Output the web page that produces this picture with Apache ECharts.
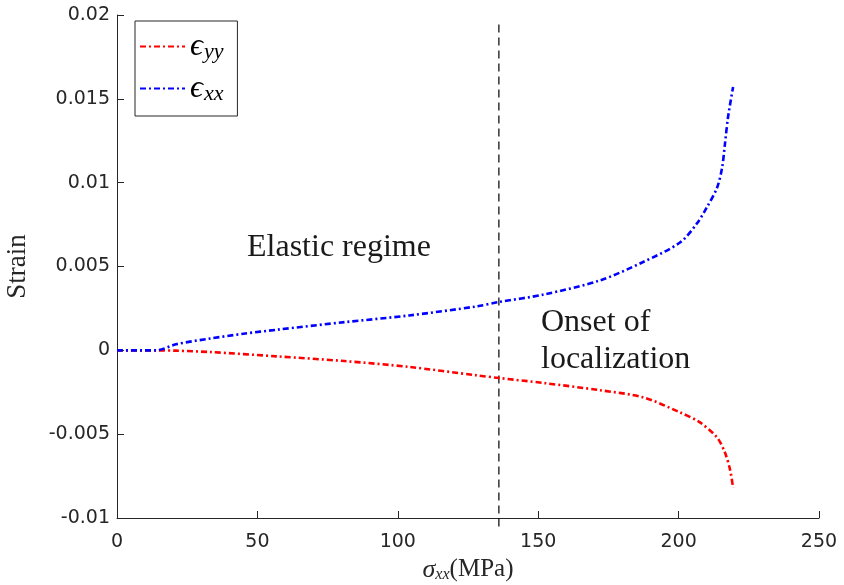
<!DOCTYPE html>
<html lang="en">
<head>
	<meta charset="UTF-8">
	<title>strain vs stress</title>
	<style type="text/css">
	body,html{
		width: 100%;
		height: 100%;
		margin: 0;
		padding: 0;
		background: #fff;
	}
	#chart{
		width: 844px;
		height: 585px;
	}
	</style>
</head>
<body>
	<div id="chart"></div>
<script type="text/javascript" src="https://cdn.jsdelivr.net/npm/echarts@6/dist/echarts.min.js"></script>
<script type="text/javascript">
	// values
	var stressXX = [0, 14, 21, 33, 45, 57, 81, 104, 128, 136, 152, 172, 187, 200.5, 206.5, 210, 213.7, 215.5, 216.5, 217.6, 219.4];
	var strainXX = [0, 0, 0.00036, 0.0007, 0.00099, 0.00123, 0.00168, 0.00208, 0.00262, 0.00288, 0.00333, 0.00417, 0.00524, 0.00643, 0.00756, 0.00851, 0.0097, 0.0109, 0.0123, 0.0139, 0.0157];
	var stressYY = [0, 14, 21, 33, 57, 81, 104, 128, 136, 152, 172, 187.3, 200.5, 207.6, 213.7, 216.5, 218.3, 219.4];
	var strainYY = [0, 0, -0.00002, -0.0001, -0.00036, -0.00064, -0.00099, -0.00149, -0.00165, -0.00195, -0.00238, -0.0028, -0.0037, -0.0043, -0.0052, -0.0061, -0.0071, -0.0082];
	var onsetX = [136, 136];
	var onsetY = [-0.0105, 0.0196];
	var xTicks = [0, 250, 50];
	var yTicks = [-0.01, 0.02, 0.005];

	function pairs(xs, ys){
		var out = [];
		for (var i = 0; i < xs.length; i++) out.push([xs[i], ys[i]]);
		return out;
	}

	var axisColor = '#262626';
	var serif = 'Liberation Serif';
	var dashDot = [6, 3, 2, 3];

	var chart = echarts.init(document.getElementById('chart'));
	var option = {
		animation: false,
		backgroundColor: '#fff',
		grid: {left: 117, right: 25, top: 15, bottom: 67, containLabel: false, outerBoundsMode: 'none'},
		legend: {
			orient: 'vertical',
			left: 135,
			top: 21,
			padding: [9, 14, 11, 4],
			itemWidth: 45,
			itemHeight: 14,
			itemGap: 9,
			borderColor: axisColor,
			borderWidth: 1,
			borderRadius: 0,
			data: ['eyy', 'exx'],
			itemStyle: {opacity: 0},
			formatter: function(n){
				return n === 'eyy' ? '{e|ϵ}{s|yy}' : '{e|ϵ}{s|xx}';
			},
			textStyle: {
				color: '#000',
				rich: {
					e: {fontFamily: serif, fontStyle: 'italic', fontSize: 32, lineHeight: 30},
					s: {fontFamily: serif, fontStyle: 'italic', fontSize: 22, lineHeight: 30, padding: [11, 0, 0, 1]}
				}
			}
		},
		xAxis: {
			type: 'value',
			min: xTicks[0],
			max: xTicks[1],
			interval: xTicks[2],
			name: '{s|σ}{b|xx}{t|(MPa)}',
			nameLocation: 'middle',
			nameGap: 36,
			nameTextStyle: {
				rich: {
					s: {fontFamily: serif, fontStyle: 'italic', fontSize: 26, color: '#262626'},
					b: {fontFamily: serif, fontStyle: 'italic', fontSize: 16, color: '#262626', padding: [10, 0, 0, 0]},
					t: {fontFamily: serif, fontSize: 25, color: '#262626'}
				}
			},
			axisLine: {onZero: false, lineStyle: {color: axisColor, width: 1}},
			axisTick: {inside: true, length: 7, lineStyle: {color: axisColor}},
			axisLabel: {color: axisColor, fontFamily: 'DejaVu Sans', fontSize: 19, margin: 15},
			splitLine: {show: false}
		},
		yAxis: {
			type: 'value',
			min: yTicks[0],
			max: yTicks[1],
			interval: yTicks[2],
			name: 'Strain',
			nameLocation: 'middle',
			nameGap: 86,
			nameTextStyle: {fontFamily: serif, fontSize: 27, color: '#262626'},
			axisLine: {onZero: false, lineStyle: {color: axisColor, width: 1}},
			axisTick: {inside: true, length: 7, lineStyle: {color: axisColor}},
			axisLabel: {
				color: axisColor, fontFamily: 'DejaVu Sans', fontSize: 19, margin: 7,
				formatter: function(v){ return String(parseFloat(v.toFixed(3))); }
			},
			splitLine: {show: false}
		},
		graphic: [
			{type: 'text', left: 247, top: 232, style: {text: 'Elastic regime', font: '32px "Liberation Serif"', fill: '#1a1a1a'}},
			{type: 'text', left: 541, top: 304, style: {text: 'Onset of\nlocalization', font: '32px "Liberation Serif"', lineHeight: 37, fill: '#1a1a1a'}}
		],
		series: [
			{
				name: 'onset',
				type: 'line',
				data: pairs(onsetX, onsetY),
				symbol: 'none',
				clip: false,
				silent: true,
				lineStyle: {color: '#000', width: 1.2, type: [8, 5]},
				z: 1
			},
			{
				name: 'eyy',
				type: 'line',
				data: pairs(stressYY, strainYY),
				symbol: 'none',
				smooth: 0.3,
				color: '#ff0000',
				lineStyle: {color: '#ff0000', width: 2.6, type: dashDot},
				z: 2
			},
			{
				name: 'exx',
				type: 'line',
				data: pairs(stressXX, strainXX),
				symbol: 'none',
				smooth: 0.3,
				color: '#0000ff',
				lineStyle: {color: '#0000ff', width: 2.6, type: dashDot},
				z: 3
			}
		]
	};
	chart.setOption(option, true);
	window.addEventListener("resize", function(){
		chart.resize();
	});
</script>
</body>
</html>
